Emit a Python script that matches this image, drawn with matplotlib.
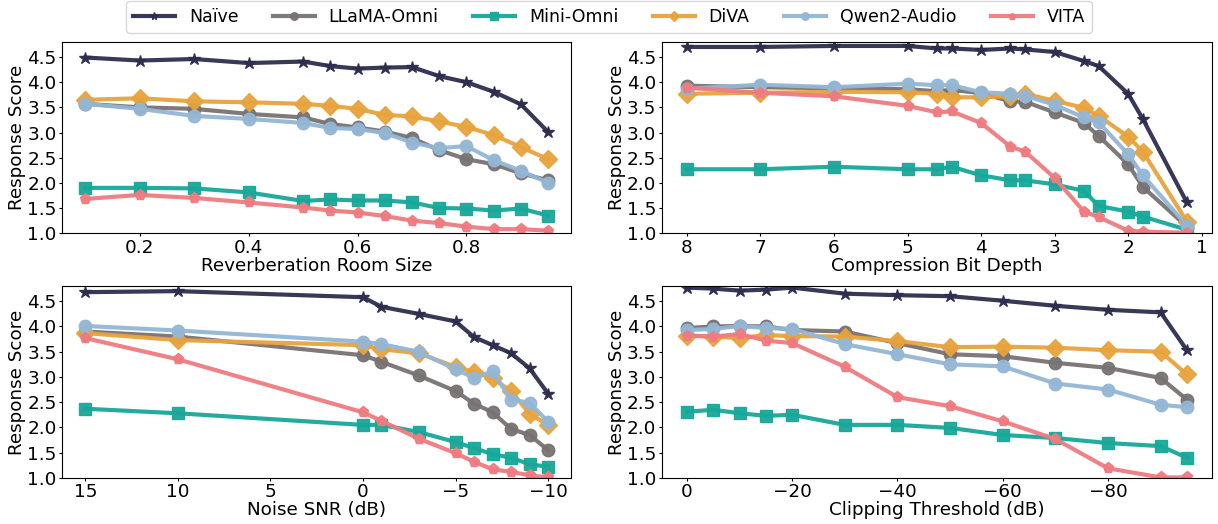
import matplotlib
matplotlib.use("Agg")
import matplotlib.pyplot as plt

models = ["Naïve", "LLaMA-Omni", "Mini-Omni", "DiVA", "Qwen2-Audio", "VITA"]
colors = ["#2d2d4e", "#787272", "#17a899", "#e8a33d", "#94b7d5", "#ef7b80"]
markers = ["*", "o", "s", "D", "o", "p"]

# Panel 1: Reverberation room size
reverb_x = [0.1, 0.2, 0.3, 0.4, 0.5, 0.55, 0.6, 0.65, 0.7, 0.75, 0.8, 0.85, 0.9, 0.95]
reverb = {
    "Naïve":       [4.49, 4.43, 4.46, 4.38, 4.41, 4.32, 4.27, 4.29, 4.30, 4.12, 4.00, 3.81, 3.56, 3.01],
    "LLaMA-Omni":  [3.57, 3.50, 3.47, 3.37, 3.30, 3.17, 3.10, 3.02, 2.89, 2.65, 2.47, 2.37, 2.19, 2.05],
    "Mini-Omni":   [1.90, 1.90, 1.89, 1.81, 1.64, 1.67, 1.65, 1.65, 1.61, 1.50, 1.49, 1.45, 1.49, 1.35],
    "DiVA":        [3.65, 3.68, 3.62, 3.60, 3.57, 3.53, 3.47, 3.35, 3.32, 3.22, 3.11, 2.95, 2.71, 2.47],
    "Qwen2-Audio": [3.57, 3.47, 3.33, 3.27, 3.19, 3.09, 3.07, 2.99, 2.80, 2.69, 2.73, 2.45, 2.24, 2.00],
    "VITA":        [1.68, 1.76, 1.70, 1.61, 1.51, 1.45, 1.41, 1.34, 1.25, 1.20, 1.13, 1.08, 1.08, 1.05],
}

# Panel 2: Compression bit depth
bits_x = [8, 7, 6, 5, 4.6, 4.4, 4, 3.6, 3.4, 3, 2.6, 2.4, 2, 1.8, 1.2]
bits = {
    "Naïve":       [4.70, 4.70, 4.72, 4.72, 4.67, 4.67, 4.64, 4.67, 4.65, 4.60, 4.42, 4.32, 3.77, 3.27, 1.61],
    "LLaMA-Omni":  [3.93, 3.90, 3.88, 3.86, 3.82, 3.85, 3.78, 3.62, 3.61, 3.40, 3.19, 2.93, 2.37, 1.92, 1.13],
    "Mini-Omni":   [2.27, 2.27, 2.32, 2.27, 2.27, 2.32, 2.15, 2.05, 2.05, 1.97, 1.84, 1.54, 1.43, 1.33, 1.07],
    "DiVA":        [3.77, 3.79, 3.81, 3.80, 3.77, 3.70, 3.70, 3.72, 3.77, 3.63, 3.49, 3.33, 2.92, 2.62, 1.23],
    "Qwen2-Audio": [3.87, 3.95, 3.90, 3.97, 3.94, 3.94, 3.80, 3.77, 3.73, 3.55, 3.30, 3.20, 2.57, 2.15, 1.15],
    "VITA":        [3.89, 3.79, 3.72, 3.53, 3.40, 3.42, 3.19, 2.72, 2.62, 2.10, 1.43, 1.32, 1.05, 1.03, 1.01],
}

# Panel 3: Noise SNR
snr_x = [15, 10, 0, -1, -3, -5, -6, -7, -8, -9, -10]
snr = {
    "Naïve":       [4.68, 4.70, 4.58, 4.39, 4.25, 4.10, 3.79, 3.63, 3.47, 3.17, 2.67],
    "LLaMA-Omni":  [3.90, 3.80, 3.43, 3.30, 3.03, 2.72, 2.47, 2.30, 1.97, 1.85, 1.55],
    "Mini-Omni":   [2.37, 2.28, 2.05, 2.05, 1.91, 1.71, 1.59, 1.47, 1.40, 1.27, 1.22],
    "DiVA":        [3.87, 3.73, 3.63, 3.55, 3.47, 3.20, 3.10, 2.97, 2.72, 2.27, 2.05],
    "Qwen2-Audio": [4.01, 3.92, 3.70, 3.65, 3.50, 3.15, 2.98, 3.11, 2.55, 2.49, 2.11],
    "VITA":        [3.77, 3.35, 2.30, 2.13, 1.78, 1.49, 1.32, 1.17, 1.12, 1.05, 1.01],
}

# Panel 4: Clipping threshold
clip_x = [0, -5, -10, -15, -20, -30, -40, -50, -60, -70, -80, -90, -95]
clip = {
    "Naïve":       [4.77, 4.75, 4.71, 4.73, 4.77, 4.65, 4.62, 4.60, 4.51, 4.41, 4.33, 4.28, 3.53],
    "LLaMA-Omni":  [3.97, 4.00, 4.01, 4.00, 3.93, 3.90, 3.67, 3.45, 3.41, 3.28, 3.18, 2.98, 2.55],
    "Mini-Omni":   [2.31, 2.35, 2.28, 2.23, 2.25, 2.05, 2.05, 1.99, 1.85, 1.79, 1.69, 1.63, 1.40],
    "DiVA":        [3.82, 3.80, 3.77, 3.83, 3.81, 3.80, 3.71, 3.59, 3.60, 3.58, 3.53, 3.50, 3.05],
    "Qwen2-Audio": [3.93, 3.95, 4.01, 3.97, 3.95, 3.65, 3.45, 3.25, 3.21, 2.87, 2.75, 2.45, 2.40],
    "VITA":        [3.82, 3.80, 3.85, 3.72, 3.67, 3.20, 2.60, 2.42, 2.12, 1.77, 1.19, 1.01, 1.01],
}

panels = [
    (reverb_x, reverb, "Reverberation Room Size", False),
    (bits_x, bits, "Compression Bit Depth", True),
    (snr_x, snr, "Noise SNR (dB)", True),
    (clip_x, clip, "Clipping Threshold (dB)", True),
]

FS = 13.2
plt.rcParams["font.family"] = "DejaVu Sans"

fig = plt.figure(figsize=(12.18, 5.24), dpi=100)
rects = [
    [0.051, 0.555, 0.418, 0.365],
    [0.5435, 0.555, 0.4515, 0.365],
    [0.051, 0.088, 0.418, 0.366],
    [0.5435, 0.088, 0.4515, 0.366],
]
msizes = {"*": 9, "o": 9, "s": 9, "D": 9, "p": 8}

handles = []
for i, (xs, data, xlabel, invert) in enumerate(panels):
    ax = fig.add_axes(rects[i])
    for m, c, mk in zip(models, colors, markers):
        ln, = ax.plot(xs, data[m], color=c, marker=mk, markersize=msizes[mk],
                      linewidth=3, label=m, alpha=0.95)
        if i == 0:
            handles.append(ln)
    ax.set_ylim(1.0, 4.8)
    ax.set_yticks([1.0, 1.5, 2.0, 2.5, 3.0, 3.5, 4.0, 4.5])
    if invert:
        ax.invert_xaxis()
    ax.set_xlabel(xlabel, fontsize=FS, labelpad=0)
    ax.set_ylabel("Response Score", fontsize=FS, labelpad=1)
    ax.tick_params(labelsize=FS, length=2.5, pad=1.5)

fig.legend(handles=handles, labels=models, loc="upper center", ncol=6,
           bbox_to_anchor=(0.5, 1.005), fontsize=12.5, markerscale=0.6,
           handlelength=2.4, columnspacing=2.0, borderaxespad=0.2)

fig.savefig("out.png", dpi=100)
